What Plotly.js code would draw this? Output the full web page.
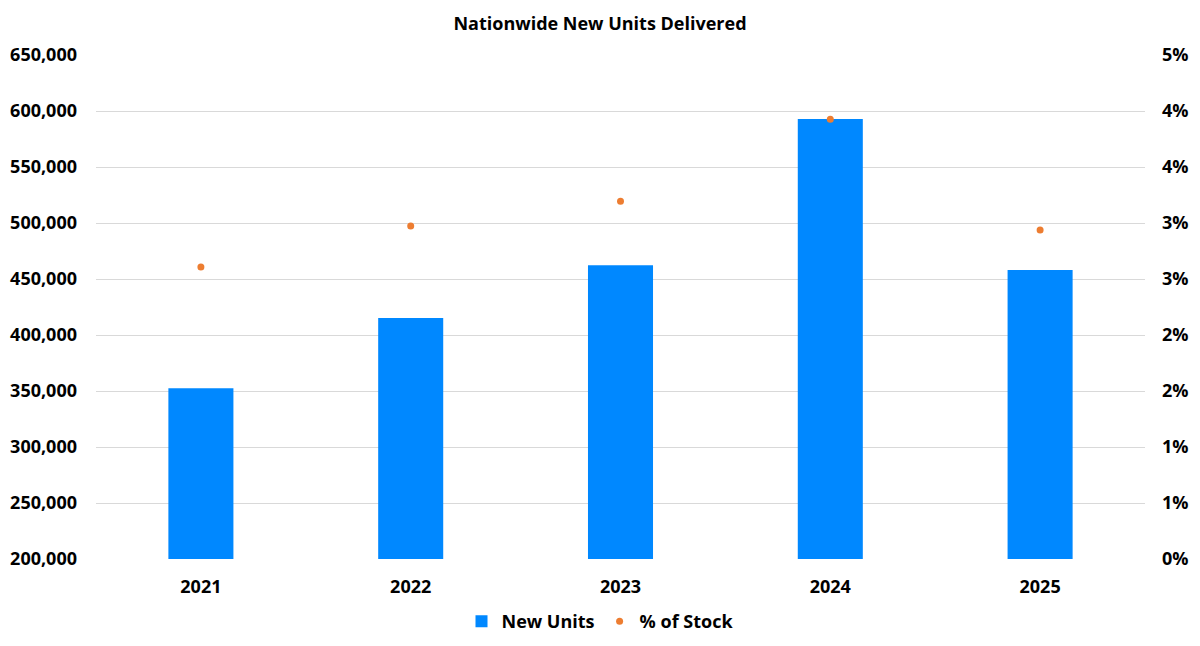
<!DOCTYPE html>
<html>
<head>
<meta charset="utf-8">
<script src="https://cdn.plot.ly/plotly-3.0.1.min.js"></script>
<style>html,body{margin:0;padding:0;background:#fff;}#chart{width:1200px;height:646px;}</style>
</head>
<body>
<div id="chart"></div>
<script>
const years = ["2021", "2022", "2023", "2024", "2025"];
const newUnits = [352400, 415200, 462200, 592900, 458000];
const pctStock = [0.02607, 0.02973, 0.03194, 0.03926, 0.02938];
const leftTickVals = [200000, 250000, 300000, 350000, 400000, 450000, 500000, 550000, 600000, 650000];
const rightTickVals = [0, 0.005, 0.01, 0.015, 0.02, 0.025, 0.03, 0.035, 0.04, 0.045];
const rightTickText = ["0%", "1%", "1%", "2%", "2%", "3%", "3%", "4%", "4%", "5%"];

const FONT = "Open Sans, sans-serif";

const traces = [
  {
    type: "bar",
    name: "New Units",
    x: years,
    y: newUnits,
    width: 0.31,
    marker: {color: "#0088FF"},
    hoverinfo: "x+y"
  },
  {
    type: "scatter",
    mode: "markers",
    name: "% of Stock",
    x: years,
    y: pctStock,
    yaxis: "y2",
    marker: {color: "#ED7D31", size: 7}
  }
];

const layout = {
  width: 1200,
  height: 646,
  paper_bgcolor: "#fff",
  plot_bgcolor: "#fff",
  margin: {l: 96, r: 55, t: 55, b: 87},
  font: {family: FONT, color: "#000", size: 18, weight: "bold"},
  title: {
    text: "<b>Nationwide New Units Delivered</b>",
    font: {family: FONT, size: 18, color: "#000"},
    x: 0.5, xanchor: "center", xref: "container",
    y: 0.964, yanchor: "middle", yref: "container"
  },
  xaxis: {
    type: "category",
    showgrid: false,
    zeroline: false,
    showline: false,
    ticks: "",
    ticklabelstandoff: 15,
    tickfont: {family: FONT, size: 18, color: "#000", weight: "bold"}
  },
  yaxis: {
    range: [200000, 650000],
    tickvals: leftTickVals,
    tickformat: ",",
    showgrid: true,
    gridcolor: "#d9d9d9",
    gridwidth: 1,
    zeroline: false,
    showline: false,
    ticks: "",
    ticklabelstandoff: 18,
    tickfont: {family: FONT, size: 18, color: "#000", weight: "bold"}
  },
  yaxis2: {
    overlaying: "y",
    side: "right",
    range: [0, 0.045],
    tickvals: rightTickVals,
    ticktext: rightTickText,
    showgrid: false,
    zeroline: false,
    showline: false,
    ticks: "",
    ticklabelstandoff: 16,
    tickfont: {family: FONT, size: 18, color: "#000", weight: "bold"}
  },
  showlegend: true,
  legend: {
    orientation: "h",
    x: 0.5, xanchor: "center", xref: "container",
    y: 0.038, yanchor: "middle", yref: "container",
    font: {family: FONT, size: 18, color: "#000", weight: "bold"},
    itemclick: false
  },
  bargap: 0.69
};

Plotly.newPlot("chart", traces, layout, {displayModeBar: false, staticPlot: true});
</script>
</body>
</html>
